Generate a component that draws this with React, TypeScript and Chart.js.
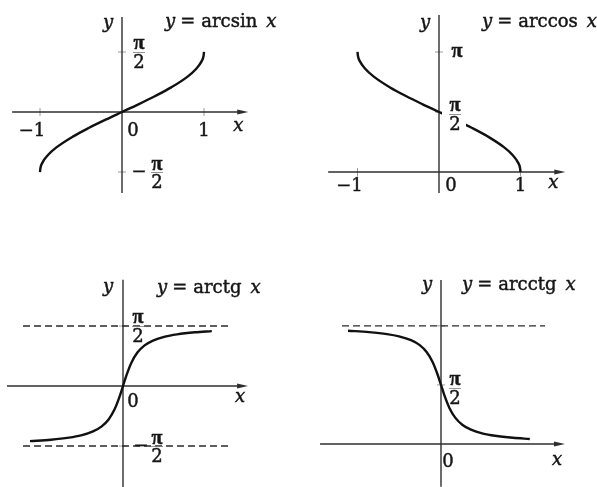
import React, { useEffect, useRef } from "react";
import { Chart, registerables } from "chart.js";

Chart.register(...registerables);

// ---- data: sampled points of the four inverse trigonometric functions ----
const arcsinX = [-1, -0.995, -0.97, -0.9, -0.8, -0.6, -0.4, -0.2, 0, 0.2, 0.4, 0.6, 0.8, 0.9, 0.97, 0.995, 1];
const arcsinY = [-1.571, -1.471, -1.325, -1.12, -0.927, -0.644, -0.412, -0.201, 0, 0.201, 0.412, 0.644, 0.927, 1.12, 1.325, 1.471, 1.571];

const arccosX = [-1, -0.995, -0.97, -0.9, -0.8, -0.6, -0.4, -0.2, 0, 0.2, 0.4, 0.6, 0.8, 0.9, 0.97, 0.995, 1];
const arccosY = [3.142, 3.042, 2.896, 2.691, 2.498, 2.214, 1.982, 1.772, 1.571, 1.369, 1.159, 0.927, 0.644, 0.451, 0.245, 0.1, 0];

const arctgX = [-7.75, -6, -4.5, -3.5, -2.5, -1.8, -1.2, -0.7, -0.3, 0, 0.3, 0.7, 1.2, 1.8, 2.5, 3.5, 4.5, 6, 7.4];
const arctgY = [-1.443, -1.406, -1.352, -1.293, -1.19, -1.064, -0.876, -0.611, -0.292, 0, 0.292, 0.611, 0.876, 1.064, 1.19, 1.293, 1.352, 1.406, 1.437];

const arcctgX = [-7.75, -6, -4.5, -3.5, -2.5, -1.8, -1.2, -0.7, -0.3, 0, 0.3, 0.7, 1.2, 1.8, 2.5, 3.5, 4.5, 6, 7.4];
const arcctgY = [3.013, 2.976, 2.923, 2.863, 2.761, 2.635, 2.447, 2.182, 1.862, 1.571, 1.279, 0.96, 0.695, 0.507, 0.381, 0.278, 0.219, 0.165, 0.134];

// special values marked on the axes
const HALF_PI = 1.5708;
const PI = 3.1416;
const arcsinXTicks = [-1, 1];
const arcsinYTicks = [HALF_PI, -HALF_PI];
const arccosXTicks = [-1, 1];
const arccosYTicks = [PI, HALF_PI];
const arctgYTicks = [HALF_PI, -HALF_PI];
const arcctgYTicks = [PI, HALF_PI];

// asymptotes
const arctgAsymptotes = [HALF_PI, -HALF_PI];
const arcctgAsymptotes = [PI];

const INK = "#161616";
const AXIS = "#2e2e2e";
const UPRIGHT = "18px 'DejaVu Serif', 'Liberation Serif', serif";
const ITALIC = "italic 18px 'DejaVu Serif', 'Liberation Serif', serif";
const GREEK = "bold 20px 'Liberation Serif', 'DejaVu Serif', serif";

type Pt = [number, number];

type Label =
  | { kind: "text"; text: string; italic?: boolean; greek?: boolean; at: Pt; dx: number; dy: number }
  | { kind: "title"; name: string; at: Pt; dx: number; dy: number }
  | { kind: "frac"; num: string; den: string; at: Pt; dx: number; dy: number; minusDx?: number; knockout?: boolean };

interface PanelSpec {
  left: number;
  top: number;
  width: number;
  height: number;
  ox: number;
  oy: number;
  xUnit: number;
  yUnit: number;
  xAxis: Pt;
  yAxis: Pt;
  xs: number[];
  ys: number[];
  asymptotes: number[];
  asymptoteSpan: Pt;
  xTicks: number[];
  yTicks: number[];
  labels: Label[];
}

const panels: PanelSpec[] = [
  {
    left: 0, top: 0, width: 298, height: 240,
    ox: 122, oy: 112, xUnit: 82, yUnit: 38.2,
    xAxis: [-1.34, 1.54], yAxis: [-2.12, 2.49],
    xs: arcsinX, ys: arcsinY,
    asymptotes: [], asymptoteSpan: [0, 0],
    xTicks: arcsinXTicks, yTicks: arcsinYTicks,
    labels: [
      { kind: "text", text: "y", italic: true, at: [0, 2.49], dx: -14, dy: 6 },
      { kind: "title", name: "arcsin", at: [0, 2.49], dx: 43, dy: 10 },
      { kind: "frac", num: "π", den: "2", at: [0, HALF_PI], dx: 17, dy: 0 },
      { kind: "text", text: "−1", at: [-1, 0], dx: -8, dy: 19 },
      { kind: "text", text: "0", at: [0, 0], dx: 11, dy: 19 },
      { kind: "text", text: "1", at: [1, 0], dx: 0, dy: 19 },
      { kind: "text", text: "x", italic: true, at: [1.54, 0], dx: -10, dy: 14 },
      { kind: "frac", num: "π", den: "2", at: [0, -HALF_PI], dx: 35, dy: 0, minusDx: 17 },
    ],
  },
  {
    left: 298, top: 0, width: 299, height: 240,
    ox: 141, oy: 172, xUnit: 81.5, yUnit: 38.2,
    xAxis: [-1.36, 1.55], yAxis: [-0.55, 4.11],
    xs: arccosX, ys: arccosY,
    asymptotes: [], asymptoteSpan: [0, 0],
    xTicks: arccosXTicks, yTicks: arccosYTicks,
    labels: [
      { kind: "text", text: "y", italic: true, at: [0, 4.11], dx: -14, dy: 8 },
      { kind: "title", name: "arccos", at: [0, 4.11], dx: 43, dy: 12 },
      { kind: "text", text: "π", greek: true, at: [0, PI], dx: 18, dy: 0 },
      { kind: "frac", num: "π", den: "2", at: [0, HALF_PI], dx: 16, dy: 2, knockout: true },
      { kind: "text", text: "−1", at: [-1, 0], dx: -8, dy: 14 },
      { kind: "text", text: "0", at: [0, 0], dx: 12, dy: 14 },
      { kind: "text", text: "1", at: [1, 0], dx: 0, dy: 14 },
      { kind: "text", text: "x", italic: true, at: [1.55, 0], dx: -12, dy: 11 },
    ],
  },
  {
    left: 0, top: 240, width: 298, height: 247,
    ox: 123, oy: 146, xUnit: 12, yUnit: 38.2,
    xAxis: [-9.67, 10.42], yAxis: [-2.66, 2.78],
    xs: arctgX, ys: arctgY,
    asymptotes: arctgAsymptotes, asymptoteSpan: [-8.33, 8.75],
    xTicks: [], yTicks: arctgYTicks,
    labels: [
      { kind: "text", text: "y", italic: true, at: [0, 2.78], dx: -15, dy: 8 },
      { kind: "title", name: "arctg", at: [0, 2.78], dx: 34, dy: 13 },
      { kind: "frac", num: "π", den: "2", at: [0, HALF_PI], dx: 15, dy: 0 },
      { kind: "text", text: "0", at: [0, 0], dx: 10, dy: 16 },
      { kind: "text", text: "x", italic: true, at: [10.42, 0], dx: -8, dy: 11 },
      { kind: "frac", num: "π", den: "2", at: [0, -HALF_PI], dx: 34, dy: 0, minusDx: 18 },
    ],
  },
  {
    left: 298, top: 240, width: 299, height: 247,
    ox: 143, oy: 204, xUnit: 12, yUnit: 37.6,
    xAxis: [-10.08, 10.33], yAxis: [-1.14, 4.36],
    xs: arcctgX, ys: arcctgY,
    asymptotes: arcctgAsymptotes, asymptoteSpan: [-8.25, 8.67],
    xTicks: [], yTicks: arcctgYTicks,
    labels: [
      { kind: "text", text: "y", italic: true, at: [0, 4.36], dx: -14, dy: 5 },
      { kind: "title", name: "arcctg", at: [0, 4.36], dx: 21, dy: 10 },
      { kind: "frac", num: "π", den: "2", at: [0, HALF_PI], dx: 14, dy: 3 },
      { kind: "text", text: "0", at: [0, 0], dx: 7, dy: 18 },
      { kind: "text", text: "x", italic: true, at: [10.33, 0], dx: -8, dy: 16 },
    ],
  },
];

function seg(ctx: CanvasRenderingContext2D, x1: number, y1: number, x2: number, y2: number) {
  ctx.beginPath();
  ctx.moveTo(x1, y1);
  ctx.lineTo(x2, y2);
  ctx.stroke();
}

// text with a hairline outline so the glyphs read as heavy as print
function ink(ctx: CanvasRenderingContext2D, text: string, x: number, y: number, font: string) {
  ctx.font = font;
  ctx.fillStyle = INK;
  ctx.strokeStyle = INK;
  ctx.lineWidth = 0.45;
  ctx.fillText(text, x, y);
  ctx.strokeText(text, x, y);
}

function drawTitle(ctx: CanvasRenderingContext2D, x: number, y: number, name: string) {
  ctx.textAlign = "left";
  ctx.textBaseline = "alphabetic";
  ink(ctx, "y", x, y, ITALIC);
  x += ctx.measureText("y").width + 5;
  ink(ctx, "=", x, y, UPRIGHT);
  x += ctx.measureText("=").width + 6;
  ink(ctx, name, x, y, UPRIGHT);
  x += ctx.measureText(name).width + 9;
  ink(ctx, "x", x, y, ITALIC);
}

function drawFrac(ctx: CanvasRenderingContext2D, cx: number, cy: number, num: string, den: string, knockout?: boolean) {
  if (knockout) {
    ctx.fillStyle = "#ffffff";
    ctx.fillRect(cx - 13, cy - 14, 24, 32);
  }
  ctx.textAlign = "center";
  ctx.textBaseline = "alphabetic";
  ink(ctx, num, cx, cy - 2.5, GREEK);
  ink(ctx, den, cx, cy + 16, UPRIGHT);
  ctx.strokeStyle = "#7a7a7a";
  ctx.lineWidth = 0.8;
  seg(ctx, cx - 6, cy + 0.5, cx + 6, cy + 0.5);
}

function mathAxes(p: PanelSpec) {
  return {
    id: "mathAxes",
    beforeDatasetsDraw(chart: Chart) {
      const ctx = chart.ctx;
      const X = (v: number) => chart.scales.x.getPixelForValue(v);
      const Y = (v: number) => chart.scales.y.getPixelForValue(v);
      const x0 = X(0);
      const y0 = Y(0);
      ctx.save();
      ctx.strokeStyle = "#9c9c9c";
      ctx.lineWidth = 1;
      for (const t of p.xTicks) seg(ctx, X(t), y0 - 4, X(t), y0 + 4);
      for (const t of p.yTicks) seg(ctx, x0 - 4, Y(t), x0 + 4, Y(t));
      ctx.strokeStyle = AXIS;
      ctx.lineWidth = 1.4;
      const tip = X(p.xAxis[1]);
      seg(ctx, X(p.xAxis[0]), y0, tip - 6, y0);
      seg(ctx, x0, Y(p.yAxis[0]), x0, Y(p.yAxis[1]));
      ctx.fillStyle = AXIS;
      ctx.beginPath();
      ctx.moveTo(tip, y0);
      ctx.lineTo(tip - 11, y0 - 2.6);
      ctx.lineTo(tip - 11, y0 + 2.6);
      ctx.closePath();
      ctx.fill();
      ctx.restore();
    },
    afterDatasetsDraw(chart: Chart) {
      const ctx = chart.ctx;
      const X = (v: number) => chart.scales.x.getPixelForValue(v);
      const Y = (v: number) => chart.scales.y.getPixelForValue(v);
      ctx.save();
      for (const l of p.labels) {
        const px = X(l.at[0]) + l.dx;
        const py = Y(l.at[1]) + l.dy;
        if (l.kind === "text") {
          ctx.textAlign = "center";
          ctx.textBaseline = "middle";
          ink(ctx, l.text, px, py, l.greek ? GREEK : l.italic ? ITALIC : UPRIGHT);
        } else if (l.kind === "title") {
          drawTitle(ctx, px, py, l.name);
        } else {
          if (l.minusDx !== undefined) {
            ctx.textAlign = "center";
            ctx.textBaseline = "middle";
            ink(ctx, "−", X(l.at[0]) + l.minusDx, py, UPRIGHT);
          }
          drawFrac(ctx, px, py, l.num, l.den, l.knockout);
        }
      }
      ctx.restore();
    },
  };
}

function Panel({ spec }: { spec: PanelSpec }) {
  const ref = useRef<HTMLCanvasElement>(null);
  useEffect(() => {
    const p = spec;
    const xMin = -p.ox / p.xUnit;
    const xMax = (p.width - p.ox) / p.xUnit;
    const yMax = p.oy / p.yUnit;
    const yMin = -(p.height - p.oy) / p.yUnit;
    const datasets: any[] = p.asymptotes.map((a) => ({
      data: [
        { x: p.asymptoteSpan[0], y: a },
        { x: p.asymptoteSpan[1], y: a },
      ],
      showLine: true,
      borderColor: "#2a2a2a",
      borderWidth: 1.4,
      borderDash: [7, 4],
      pointRadius: 0,
    }));
    datasets.push({
      data: p.xs.map((x, i) => ({ x, y: p.ys[i] })),
      showLine: true,
      borderColor: "#111111",
      borderWidth: 2.4,
      pointRadius: 0,
      cubicInterpolationMode: "monotone",
    });
    const chart = new Chart(ref.current!, {
      type: "scatter",
      data: { datasets },
      options: {
        animation: false,
        responsive: false,
        devicePixelRatio: 1,
        events: [],
        layout: { padding: 0 },
        plugins: { legend: { display: false }, tooltip: { enabled: false } },
        scales: {
          x: { type: "linear", display: false, min: xMin, max: xMax },
          y: { type: "linear", display: false, min: yMin, max: yMax },
        },
      },
      plugins: [mathAxes(p)],
    });
    return () => chart.destroy();
  }, [spec]);
  return (
    <div style={{ position: "absolute", left: spec.left, top: spec.top, width: spec.width, height: spec.height }}>
      <canvas
        ref={ref}
        width={spec.width}
        height={spec.height}
        style={{ display: "block", width: spec.width, height: spec.height }}
      />
    </div>
  );
}

export default function App() {
  return (
    <div style={{ position: "absolute", left: 0, top: 0, width: 597, height: 487, background: "#ffffff", overflow: "hidden" }}>
      {panels.map((p, i) => (
        <Panel key={i} spec={p} />
      ))}
    </div>
  );
}
